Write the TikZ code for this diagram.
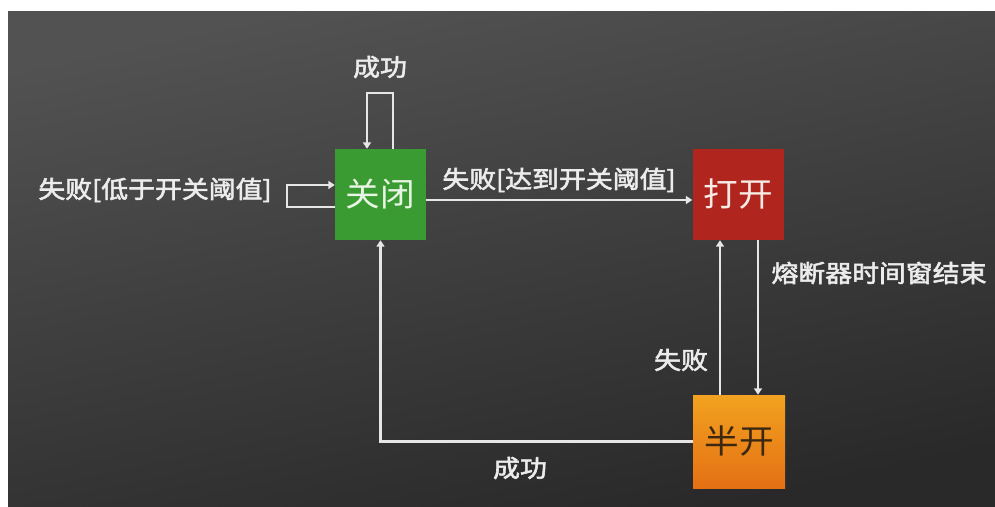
\documentclass[tikz,border=0pt]{standalone}
\usepackage{fontspec}
\usetikzlibrary{arrows.meta}
\newfontfamily\cjk[FakeStretch=1.05]{Noto Sans CJK SC}
\newfontfamily\cjkb[FakeStretch=1.12,FakeBold=2.4]{Noto Sans CJK SC}
\definecolor{bgtop}{HTML}{525252}
\definecolor{bgbot}{HTML}{292929}
\definecolor{boxgreen}{RGB}{58,155,50}
\definecolor{boxred}{RGB}{176,38,30}
\definecolor{orangetop}{RGB}{242,162,32}
\definecolor{orangebot}{RGB}{228,112,20}
\definecolor{linecol}{HTML}{E6E6E6}
\definecolor{labelcol}{HTML}{ECECEC}
\tikzset{
  statebox/.style={rectangle, inner sep=0pt, minimum width=91pt, minimum height=91pt,
    font=\cjk\fontsize{33}{33}\selectfont},
  lbl/.style={text=labelcol, inner sep=0pt, font=\cjkb\fontsize{24}{24}\selectfont},
  arr/.style={draw=linecol, line width=2.4pt,
    -{Triangle[width=8pt,length=6.5pt]}},
}
\begin{document}
\begin{tikzpicture}[x=1pt,y=-1pt]
\useasboundingbox (0,0) rectangle (995,506);
\fill[white] (0,0) rectangle (995,506);
\shade[top color=bgtop, bottom color=bgbot, shading angle=12] (8,11) rectangle (995,506);

\node[statebox, fill=boxgreen, text={rgb,255:red,232;green,244;blue,228}] (closed) at (380.5,194.5) {关闭};
\node[statebox, fill=boxred, text={rgb,255:red,248;green,234;blue,228}] (open) at (738,194.5) {打开};
\node[statebox, top color=orangetop, bottom color=orangebot, minimum width=92pt, minimum height=93pt,
  text={rgb,255:red,60;green,40;blue,16}] (half) at (739,441.5) {半开};

% self loop on top
\draw[arr] ([xshift=12.5pt]closed.north) -- ++(0,-56) -| ([xshift=-13.5pt]closed.north);
\node[lbl] (lsucc1) at (380,67) {成功};

% self loop on left
\draw[arr] ([yshift=-12.5pt]closed.west) -- ++(-48,0) |- ([yshift=9.5pt]closed.west);
\node[lbl] (lfail1) at (155,190) {失败[低于开关阈值]};

% closed -> open
\draw[arr] ([yshift=-5.5pt]closed.east) -- ([yshift=-5.5pt]open.west);
\node[lbl] (lfail2) at (559,180) {失败[达到开关阈值]};

% open -> half
\draw[arr] ([xshift=20pt]open.south) -- ([xshift=20pt]open.south |- half.north);
\node[lbl] (ltime) at (879,273) {熔断器时间窗结束};

% half -> open
\draw[arr] ([xshift=-18pt]open.south |- half.north) -- ([xshift=-18pt]open.south);
\node[lbl] (lfail3) at (681,360) {失败};

% half -> closed
\draw[arr] (half.west) -| (closed.south);
\node[lbl] (lsucc2) at (520,468) {成功};
\end{tikzpicture}
\end{document}
